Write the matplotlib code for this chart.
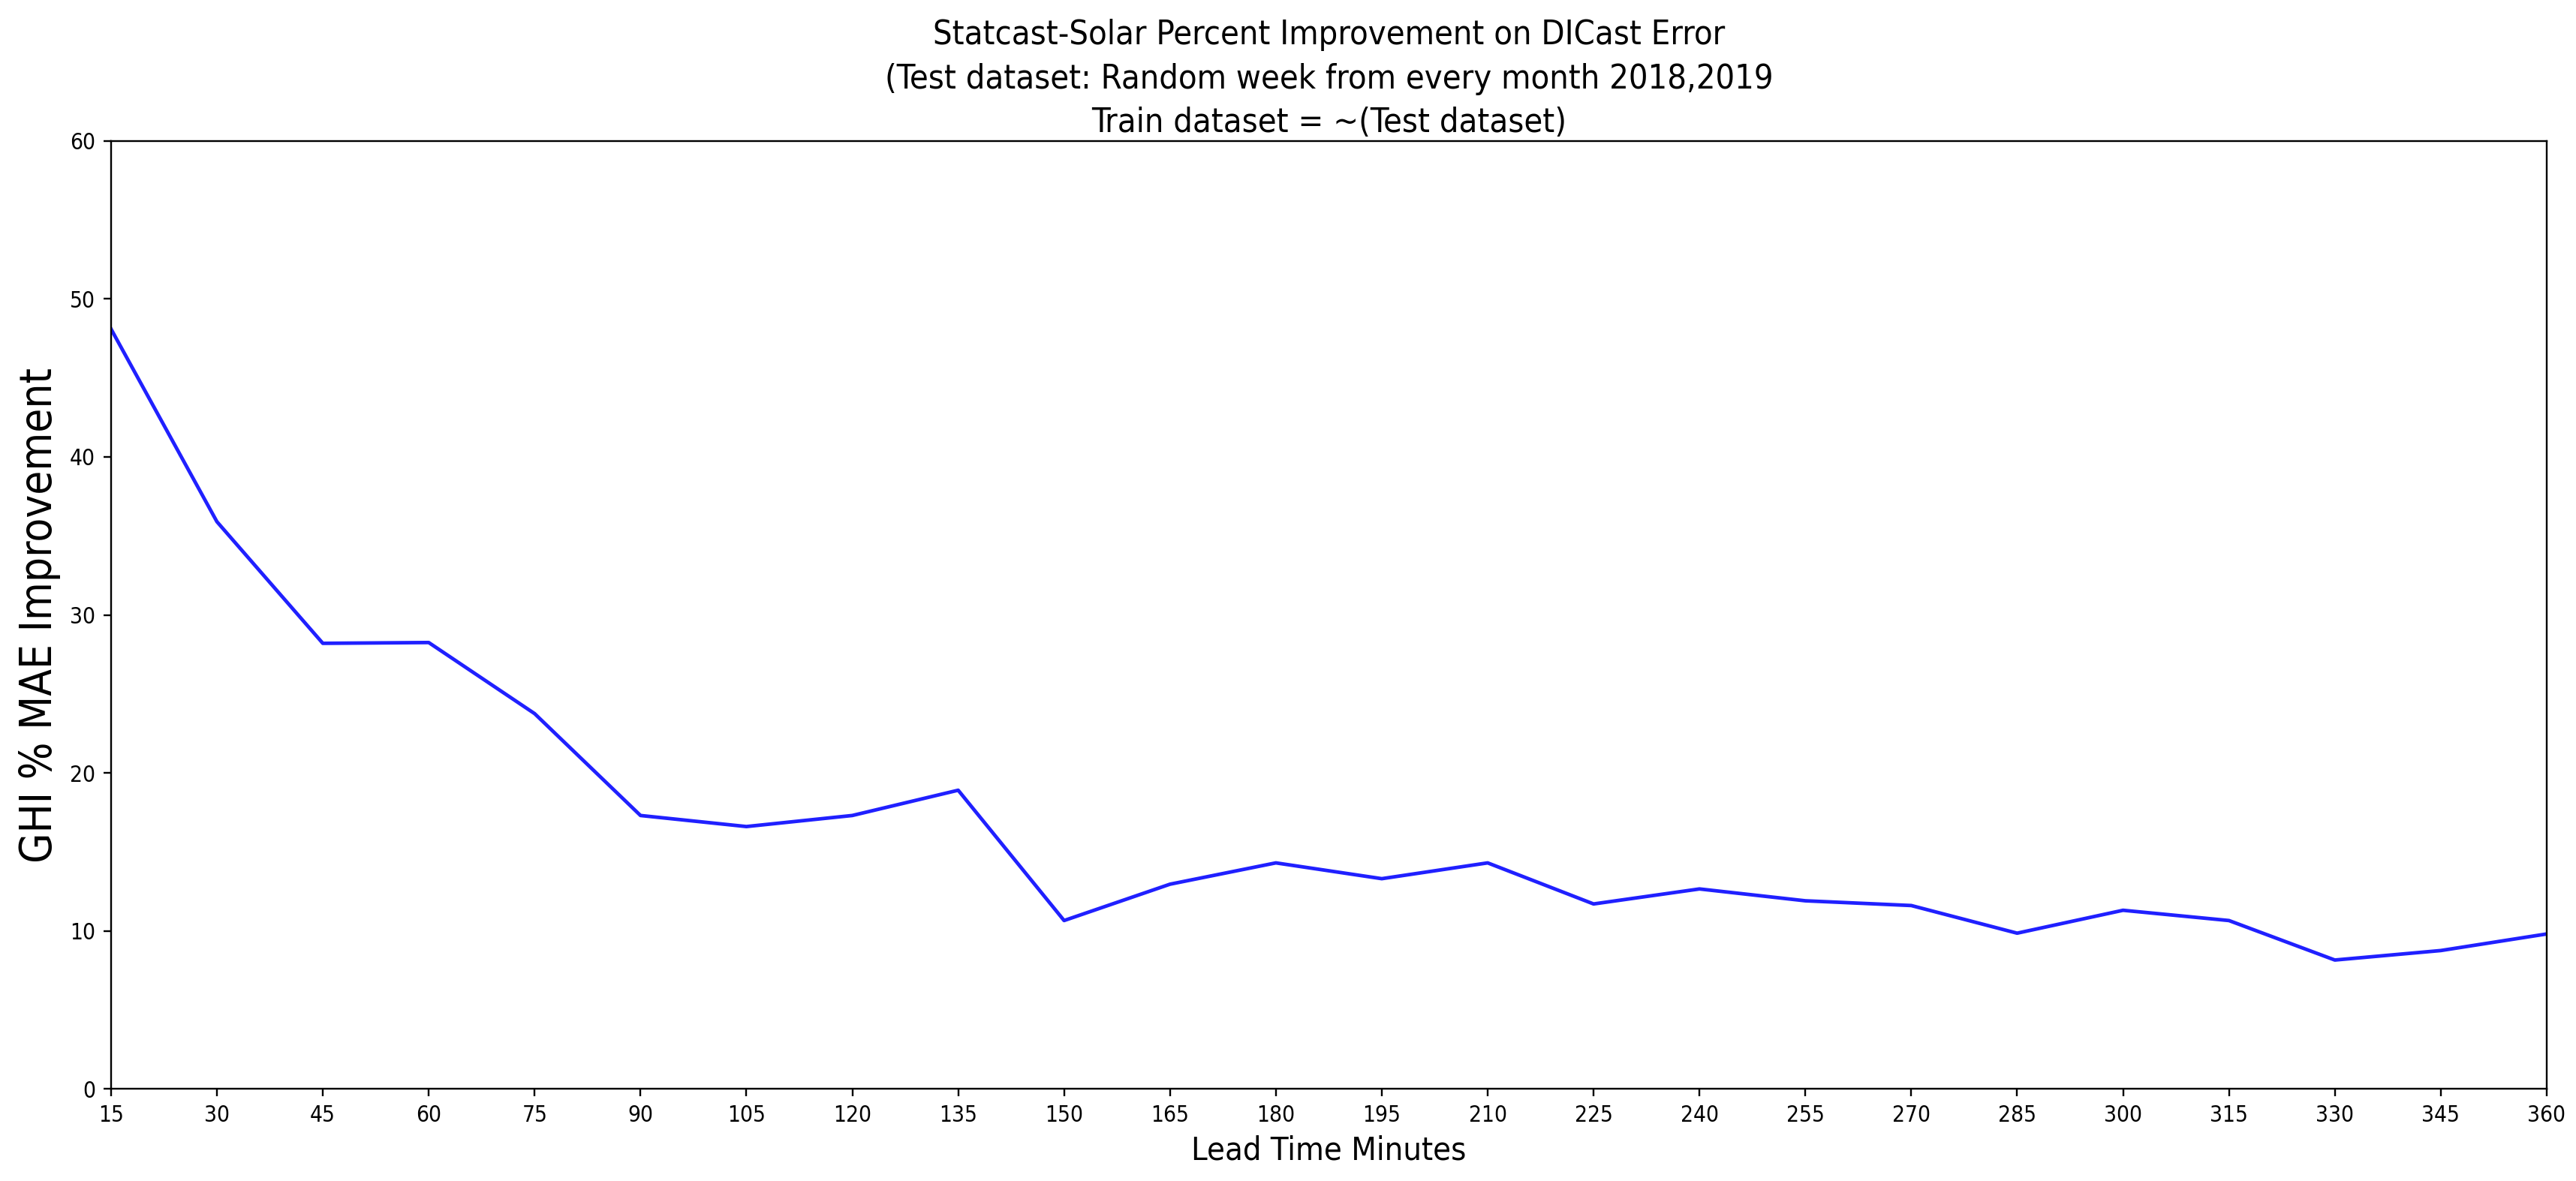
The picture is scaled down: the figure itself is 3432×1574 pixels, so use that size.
import numpy as np
import matplotlib
matplotlib.use("Agg")
import matplotlib.pyplot as plt

# lead times (minutes) and % MAE improvement
lead_minutes = [15, 30, 45, 60, 75, 90, 105, 120, 135, 150, 165, 180,
                195, 210, 225, 240, 255, 270, 285, 300, 315, 330, 345, 360]
improvement = [48.1, 35.9, 28.2, 28.25, 23.75, 17.3, 16.6, 17.3, 18.9, 10.65, 12.95, 14.3,
               13.3, 14.3, 11.7, 12.65, 11.9, 11.6, 9.85, 11.3, 10.65, 8.15, 8.75, 9.8]
y_ticks = [0, 10, 20, 30, 40, 50, 60]

fig = plt.figure(figsize=(16, 7.338), dpi=214.5)
ax = fig.add_axes([0.0431, 0.0781, 0.9455, 0.8025])

ax.plot(lead_minutes, improvement, color='#2020ff', lw=1.6)

ax.set_xlim(15, 360)
ax.set_ylim(0, 60)
ax.set_xticks(lead_minutes)
ax.set_yticks(y_ticks)
ax.tick_params(labelsize=10)
for lab in ax.get_xticklabels() + ax.get_yticklabels():
    lab.set_fontstretch('condensed')

ax.set_xlabel("Lead Time Minutes", fontsize=14.5, fontstretch='condensed')
ax.set_ylabel("GHI % MAE Improvement", fontsize=19.5, fontstretch='condensed')
ax.set_title("Statcast-Solar Percent Improvement on DICast Error\n"
             "(Test dataset: Random week from every month 2018,2019\n"
             "Train dataset = ~(Test dataset)", fontsize=15.1,
             fontstretch='condensed', linespacing=1.45, pad=4)

fig.savefig("out.png", dpi=214.5)
